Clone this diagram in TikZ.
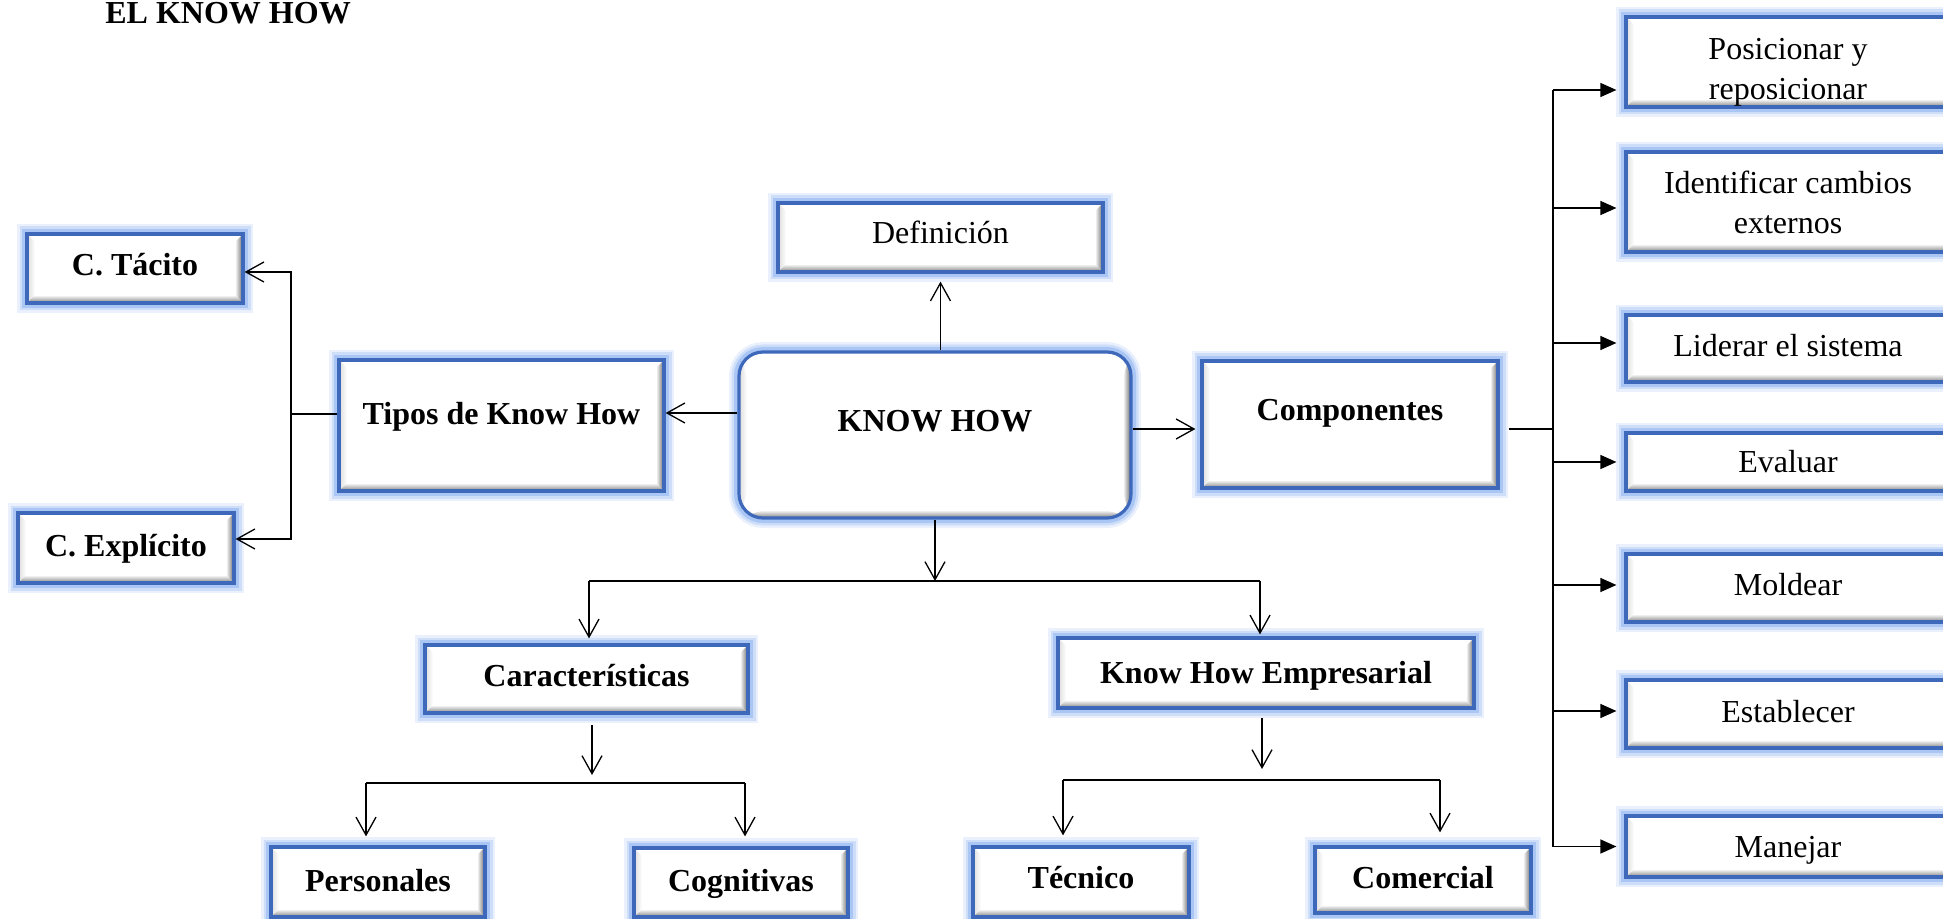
\documentclass[tikz,border=0pt]{standalone}
\usepackage{fontspec}
\setmainfont{Liberation Serif}
\usetikzlibrary{arrows.meta,calc}
\definecolor{bordc}{RGB}{62,104,186}
\definecolor{glowc}{RGB}{140,178,242}
\newcommand\dfont{\fontsize{16pt}{20pt}\selectfont}
\newcommand\twolines[3]{\raisebox{#1}[\height][\depth]{\begin{tabular}{@{}c@{}}#2\\#3\end{tabular}}}
\tikzset{
  sz/.style 2 args={minimum width=#1*0.5pt, minimum height=#2*0.5pt},
  txtup/.style={text height=11pt, text depth=#1},
  bevel/.style={path picture={
    \coordinate (ppsw) at (path picture bounding box.south west);
    \coordinate (ppne) at (path picture bounding box.north east);
    \coordinate (ppse) at (ppsw -| ppne);
    \coordinate (ppnw) at (ppsw |- ppne);
    \shade[left color=black!14, right color=white] (ppsw) -- (ppnw) -- ($(ppnw)+(4pt,-4pt)$) -- ($(ppsw)+(4pt,4pt)$) -- cycle;
    \shade[top color=white, bottom color=black!50] (ppsw) -- (ppse) -- ($(ppse)+(-4pt,4pt)$) -- ($(ppsw)+(4pt,4pt)$) -- cycle;
    \shade[left color=white, right color=black!60] (ppse) -- (ppne) -- ($(ppne)+(-4pt,-4pt)$) -- ($(ppse)+(-4pt,4pt)$) -- cycle;
  }},
  box/.style={rectangle, draw=bordc, line width=1.6pt, fill=white, inner sep=0pt,
    preaction={draw=glowc, line width=10pt, opacity=0.18},
    preaction={draw=glowc, line width=7.5pt, opacity=0.3},
    preaction={draw=glowc, line width=5pt, opacity=0.55},
    bevel, font=\dfont},
  bbox/.style={box, font=\dfont\bfseries},
  ln/.style={line width=0.65pt, black},
  arr/.style={ln, -{Straight Barb[length=9pt,width=10pt,line width=0.65pt]}},
  tarr/.style={ln, -{Triangle[length=8pt,width=7pt]}}
}
\begin{document}
\begin{tikzpicture}[x=0.5pt, y=-0.5pt]
\useasboundingbox (0,0) rectangle (1943,919);
\clip (0,0) rectangle (1943,919);

\node[anchor=base west, font=\dfont\bfseries, inner sep=0pt] (title) at (105,24) {EL KNOW HOW};

% central
\node[box, sz={325}{69}, txtup=4.5pt] (defin) at (940.5,237.5) {Definición};
\node[bbox, rounded corners=12pt, sz={392}{166}, txtup=15pt] (kh) at (935,435) {KNOW HOW};
\node[bbox, sz={325}{131}, txtup=12.5pt] (tipos) at (501.5,425.5) {Tipos de Know How};
\node[bbox, sz={216}{69}, txtup=3.5pt] (tacito) at (135,268.5) {C. Tácito};
\node[bbox, sz={216}{70}, txtup=3pt] (explicito) at (126,548) {C. Explícito};
\node[bbox, sz={296}{127}, txtup=14.5pt] (comp) at (1350,424.5) {Componentes};
\node[bbox, sz={323}{68}, txtup=4pt] (caract) at (586.5,679) {Características};
\node[bbox, sz={416}{70}, txtup=1pt] (khemp) at (1266,673) {Know How Empresarial};
\node[bbox, sz={214}{70}, txtup=2pt] (pers) at (378,882) {Personales};
\node[bbox, sz={214}{69}, txtup=2.5pt] (cogn) at (741,882.5) {Cognitivas};
\node[bbox, sz={216}{70}, txtup=5pt] (tecn) at (1081,882) {Técnico};
\node[bbox, sz={216}{66}, txtup=3pt] (comer) at (1423,880) {Comercial};

% right column
\node[box, sz={324}{90}] (pos) at (1788,62) {\twolines{-5pt}{Posicionar y}{reposicionar}};
\node[box, sz={324}{100}] (ident) at (1788,202) {\twolines{-2pt}{Identificar cambios}{externos}};
\node[box, sz={324}{67}, txtup=2.5pt] (lider) at (1788,348.5) {Liderar el sistema};
\node[box, sz={324}{58}, txtup=0pt] (eval) at (1788,462) {Evaluar};
\node[box, sz={324}{68}, txtup=4pt] (mold) at (1788,588) {Moldear};
\node[box, sz={324}{68}, txtup=3pt] (estab) at (1788,714) {Establecer};
\node[box, sz={324}{61}, txtup=0pt] (manej) at (1788,846.5) {Manejar};

% connectors: KNOW HOW -> Definición
\draw[arr, shorten >=4pt] (kh.north -| defin.south) -- (defin.south);
% KNOW HOW -> Tipos
\draw[arr] (kh.west |- 0,413) -- (tipos.east |- 0,413);
% Tipos -> C. Tácito / C. Explícito
\coordinate (tj) at (291,414);
\draw[ln] (tipos.west |- tj) -- (tj);
\draw[arr] (tj) |- ([yshift=-1.75pt]tacito.east);
\draw[arr] (tj) |- ([yshift=4.5pt]explicito.east);
% KNOW HOW -> Componentes
\draw[arr, shorten >=2.5pt] (kh.east |- 0,429) -- (comp.west |- 0,429);
% Componentes -> right column
\coordinate (sp) at (1553,429);
\draw[ln, shorten <=4.5pt] (comp.east |- sp) -- (sp);
\draw[ln] (sp |- 0,90) -- (sp |- manej.west);
\draw[tarr, shorten >=4pt] (sp |- 0,90) -- (pos.west |- 0,90);
\draw[tarr, shorten >=4pt] (sp |- 0,208) -- (ident.west |- 0,208);
\draw[tarr, shorten >=4pt] (sp |- 0,343) -- (lider.west |- 0,343);
\draw[tarr, shorten >=4pt] (sp |- eval.west) -- (eval.west);
\draw[tarr, shorten >=4pt] (sp |- 0,585) -- (mold.west |- 0,585);
\draw[tarr, shorten >=4pt] (sp |- 0,711) -- (estab.west |- 0,711);
\draw[tarr, shorten >=4pt] (sp |- manej.west) -- (manej.west);
% KNOW HOW -> Características / Know How Empresarial
\coordinate (b1) at (935,581);
\coordinate (b1l) at (589,581);
\coordinate (b1r) at (1260,581);
\draw[arr] (kh.south) -- (b1);
\draw[ln] (b1l) -- (b1r);
\draw[arr, shorten >=2.5pt] (b1l) -- (b1l |- caract.north);
\draw[arr, shorten >=1pt] (b1r) -- (b1r |- khemp.north);
% Características -> Personales / Cognitivas
\coordinate (c2) at (592,775);
\coordinate (b2l) at (366,783);
\coordinate (b2r) at (745,783);
\draw[arr, shorten <=5pt] (caract.south -| c2) -- (c2);
\draw[ln] (b2l) -- (b2r);
\draw[arr, shorten >=4.5pt] (b2l) -- (b2l |- pers.north);
\draw[arr, shorten >=5pt] (b2r) -- (b2r |- cogn.north);
% Know How Empresarial -> Técnico / Comercial
\coordinate (c3) at (1262,769);
\coordinate (b3l) at (1063,780);
\coordinate (b3r) at (1440,780);
\draw[arr, shorten <=4pt] (khemp.south -| c3) -- (c3);
\draw[ln] (b3l) -- (b3r);
\draw[arr, shorten >=5pt] (b3l) -- (b3l |- tecn.north);
\draw[arr, shorten >=6.5pt] (b3r) -- (b3r |- comer.north);
\end{tikzpicture}
\end{document}
